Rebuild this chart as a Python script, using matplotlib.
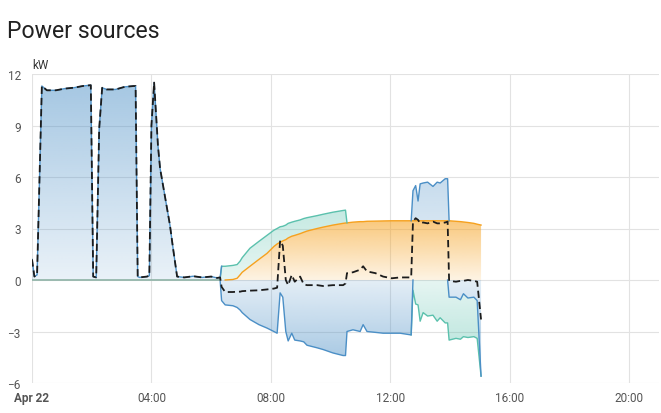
import numpy as np
import matplotlib.pyplot as plt
from matplotlib.path import Path
from matplotlib.patches import PathPatch
from matplotlib.colors import to_rgb

plt.rcParams['font.family'] = ['Roboto', 'DejaVu Sans']

# night: only grid import (kW), hours since midnight Apr 22
night_hours = [0.00, 0.08, 0.17, 0.33, 0.50, 0.80, 1.10, 1.40, 1.70, 1.97, 2.05, 2.15,
               2.25, 2.35, 2.50, 2.80, 3.10, 3.40, 3.47, 3.54, 3.60, 3.85, 3.93, 4.00,
               4.09, 4.22, 4.29, 4.46, 4.62, 4.72, 4.86, 5.10, 5.40, 5.70, 6.00, 6.20, 6.30]
night_grid_in = [1.2, 0.2, 0.3, 11.3, 11.05, 11.05, 11.15, 11.2, 11.3, 11.35, 0.2, 0.15,
                 8.8, 11.2, 11.1, 11.1, 11.25, 11.3, 11.3, 0.2, 0.15, 0.2, 0.25, 9.0,
                 11.5, 7.8, 6.5, 4.8, 3.2, 1.9, 0.2, 0.15, 0.22, 0.15, 0.2, 0.12, 0.15]

# day: all sources
day_hours = [6.35, 6.47, 6.73, 6.87, 6.97, 7.04, 7.30, 7.60, 7.87, 8.10, 8.21, 8.31,
             8.40, 8.50, 8.58, 8.70, 8.80, 8.98, 9.10, 9.21, 9.55, 9.75, 10.08, 10.42,
             10.50, 10.55, 10.75, 10.99, 11.09, 11.22, 11.50, 11.76, 12.05, 12.33, 12.70,
             12.76, 12.85, 12.93, 13.00, 13.10, 13.25, 13.43, 13.57, 13.67, 13.84, 13.92,
             13.97, 14.20, 14.35, 14.45, 14.60, 14.80, 14.91, 15.04]
day_solar = [0.0, 0.0, 0.03, 0.1, 0.3, 0.45, 0.8, 1.2, 1.55, 1.95, 2.1, 2.2,
             2.28, 2.35, 2.45, 2.55, 2.6, 2.7, 2.78, 2.85, 3.0, 3.08, 3.2, 3.3,
             3.32, 3.33, 3.37, 3.4, 3.4, 3.42, 3.43, 3.44, 3.45, 3.45, 3.45,
             3.45, 3.45, 3.45, 3.45, 3.45, 3.45, 3.45, 3.45, 3.45, 3.45, 3.45,
             3.45, 3.42, 3.4, 3.38, 3.35, 3.3, 3.25, 3.2]
day_battery_out = [0.8, 0.8, 0.82, 0.8, 0.8, 0.85, 1.05, 1.05, 1.05, 0.95, 0.9, 0.9,
                   0.85, 0.85, 0.85, 0.82, 0.82, 0.8, 0.8, 0.78, 0.75, 0.75, 0.75, 0.75,
                   0.75, 0, 0, 0, 0, 0, 0, 0, 0, 0, 0,
                   0, 0, 0, 0, 0, 0, 0, 0, 0, 0, 0,
                   0, 0, 0, 0, 0, 0, 0, 0]
day_grid_in = [0, 0, 0, 0, 0, 0, 0, 0, 0, 0, 0, 0,
               0, 0, 0, 0, 0, 0, 0, 0, 0, 0, 0, 0,
               0, 0, 0, 0, 0, 0, 0, 0, 0, 0, 0,
               1.75, 2.05, 1.15, 2.15, 2.2, 2.25, 2.0, 2.25, 2.2, 2.45, 2.45,
               0, 0, 0, 0, 0, 0, 0, 0]
day_grid_out = [-1.2, -1.45, -1.5, -1.6, -1.75, -1.9, -2.3, -2.6, -2.8, -3.0, -3.1, -0.75,
                -1.0, -3.0, -3.55, -3.1, -3.5, -3.55, -3.6, -3.8, -3.95, -4.05, -4.25, -4.4,
                -4.4, -3.0, -2.9, -3.0, -2.6, -3.0, -3.05, -3.1, -3.1, -3.1, -3.2,
                0, 0, 0, 0, 0, 0, 0, 0, 0, 0, 0,
                -1.0, -1.0, -1.15, -0.8, -1.05, -1.0, -1.2, -5.6]
day_battery_in = [0, 0, 0, 0, 0, 0, 0, 0, 0, 0, 0, 0,
                  0, 0, 0, 0, 0, 0, 0, 0, 0, 0, 0, 0,
                  0, 0, 0, 0, 0, 0, 0, 0, 0, 0, 0,
                  -0.6, -1.4, -1.45, -2.4, -1.9, -2.1, -2.05, -2.4, -2.2, -2.5, -2.5,
                  -2.5, -2.4, -2.3, -2.5, -2.3, -2.3, -2.2, 0]
day_usage = [-0.4, -0.7, -0.7, -0.68, -0.68, -0.65, -0.62, -0.6, -0.55, -0.5, -0.45, 2.3,
             2.0, 0.0, -0.3, 0.3, -0.1, 0.2, -0.25, -0.3, -0.3, -0.35, -0.3, -0.3,
             -0.2, 0.4, 0.45, 0.6, 0.8, 0.5, 0.4, 0.2, 0.1, 0.15, 0.15,
             3.4, 3.6, 3.5, 3.3, 3.35, 3.3, 3.4, 3.3, 3.3, 3.35, 3.4,
             -0.05, -0.1, -0.05, -0.05, 0.0, -0.05, -0.1, -2.3]

n_night = len(night_hours)
hours = np.array(night_hours + day_hours)
solar = np.array([0] * n_night + day_solar, float)
battery_out = np.array([0] * n_night + day_battery_out, float)
grid_in = np.array(night_grid_in + day_grid_in, float)
grid_out = np.array([0] * n_night + day_grid_out, float)
battery_in = np.array([0] * n_night + day_battery_in, float)
usage = np.array(night_grid_in + day_usage, float)

BLUE = '#4b8fc6'
ORANGE = '#f6a11e'
TEAL = '#5bc1ad'


def gradient_band(ax, x, lo, hi, color, extreme, a_zero, a_far):
    band = ax.fill_between(x, lo, hi, color='none', lw=0)
    path = Path.make_compound_path(*band.get_paths())
    patch = PathPatch(path, transform=ax.transData, fc='none', ec='none')
    ax.add_patch(patch)
    n = 256
    img = np.zeros((n, 1, 4))
    img[..., :3] = to_rgb(color)
    if extreme > 0:
        img[:, 0, 3] = np.linspace(a_zero, a_far, n)
        extent = (x.min(), x.max(), 0, extreme)
    else:
        img[:, 0, 3] = np.linspace(a_far, a_zero, n)
        extent = (x.min(), x.max(), extreme, 0)
    im = ax.imshow(img, extent=extent, origin='lower', aspect='auto',
                   interpolation='bilinear', zorder=2)
    im.set_clip_path(patch)


def active(v):
    nz = v != 0
    keep = nz.copy()
    keep[1:] |= nz[:-1]
    keep[:-1] |= nz[1:]
    return keep


fig = plt.figure(figsize=(6.61, 4.14), dpi=100)
ax = fig.add_axes([32 / 661, 1 - 384 / 414, (659 - 32) / 661, (384 - 75) / 414])

top1 = solar
top2 = solar + battery_out
top3 = top2 + grid_in
bot1 = grid_out
bot2 = grid_out + battery_in

gradient_band(ax, hours, 0, top1, ORANGE, top1.max(), 0.12, 0.58)
gradient_band(ax, hours, top1, top2, TEAL, top2.max(), 0.15, 0.35)
gradient_band(ax, hours, top2, top3, BLUE, top3.max(), 0.12, 0.5)
gradient_band(ax, hours, 0, bot1, BLUE, bot2.min(), 0.15, 0.55)
gradient_band(ax, hours, bot1, bot2, TEAL, bot2.min(), 0.15, 0.5)

ax.plot(hours, np.where(active(solar), top1, np.nan), color=ORANGE, lw=1, zorder=3)
ax.plot(hours, np.where(active(battery_out), top2, np.nan), color=TEAL, lw=1, zorder=3)
ax.plot(hours, np.where(active(grid_in), top3, np.nan), color=BLUE, lw=1, zorder=3)
ax.plot(hours, np.where(active(battery_in), bot2, np.nan), color=TEAL, lw=1, zorder=3)
ax.plot(hours, np.where(active(grid_out), bot1, np.nan), color=BLUE, lw=1, zorder=3)
night = hours <= night_hours[-1]
ax.plot(hours[night], grid_out[night], color='#8fb3a6', lw=1.2, zorder=3)

ax.plot(hours, usage, color='#1c1c1c', lw=1.3, dashes=(4, 2.2), zorder=5)

ax.set_xlim(0, 21)
ax.set_ylim(-6, 12)
ax.set_yticks([-6, -3, 0, 3, 6, 9, 12])
ax.set_xticks([0, 4, 8, 12, 16, 20])
ax.set_xticklabels(['Apr 22', '04:00', '08:00', '12:00', '16:00', '20:00'])
ax.get_xticklabels()[0].set_fontweight('bold')
ax.get_xticklabels()[0].set_color('#222222')
ax.tick_params(length=0, labelsize=8.5, labelcolor='#555555')
ax.tick_params(axis='y', pad=8)
ax.tick_params(axis='x', pad=6)
ax.grid(color='#e2e2e2', lw=0.8)
ax.set_axisbelow(True)
for s in ax.spines.values():
    s.set_visible(False)

ax.annotate('kW', xy=(0, 1), xycoords='axes fraction', xytext=(0.5, 4),
            textcoords='offset points', fontsize=8.5, color='#333333')
fig.text(7 / 661, 1 - 31 / 414, 'Power sources', fontsize=16.7, va='center', color='#212121')

fig.savefig('out.png', dpi=100)
